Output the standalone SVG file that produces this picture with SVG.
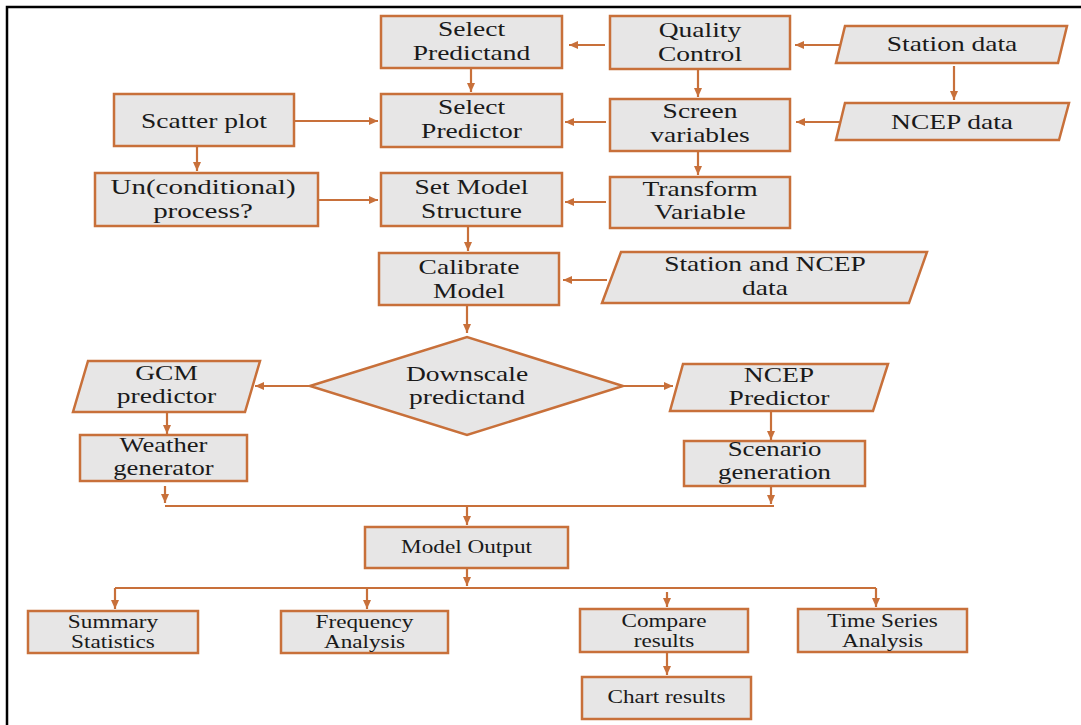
<svg xmlns="http://www.w3.org/2000/svg" width="1081" height="725" viewBox="0 0 1081 725">
<style>
.bx{fill:#e7e6e6;stroke:#c8703a;stroke-width:2.5}
.cn{fill:none;stroke:#c8703a;stroke-width:2.2}
.t{font-family:"Liberation Serif","Times New Roman",serif;font-size:21px;fill:#1a1a1a;text-anchor:middle}
.s{font-size:18px}
.m{font-size:20px}
</style>
<defs>
<marker id="ah" markerUnits="userSpaceOnUse" markerWidth="9" markerHeight="8" refX="9" refY="4" orient="auto">
<path d="M0,0 L9,4 L0,8 z" fill="#c8703a"/>
</marker>
</defs>
<rect x="0" y="0" width="1081" height="725" fill="#ffffff"/>
<rect x="7" y="7" width="1090" height="730" fill="none" stroke="#000000" stroke-width="2.5"/>

<g id="connectors">
<path class="cn" d="M840,45 H795" marker-end="url(#ah)"/>
<path class="cn" d="M605,45 H569" marker-end="url(#ah)"/>
<path class="cn" d="M954,66 V100" marker-end="url(#ah)"/>
<path class="cn" d="M698,69 V97" marker-end="url(#ah)"/>
<path class="cn" d="M840,122 H796" marker-end="url(#ah)"/>
<path class="cn" d="M606,122 H565" marker-end="url(#ah)"/>
<path class="cn" d="M698,151 V175" marker-end="url(#ah)"/>
<path class="cn" d="M606,202 H565" marker-end="url(#ah)"/>
<path class="cn" d="M471,68 V92" marker-end="url(#ah)"/>
<path class="cn" d="M294,121 H378" marker-end="url(#ah)"/>
<path class="cn" d="M197,146 V171" marker-end="url(#ah)"/>
<path class="cn" d="M318,200 H378" marker-end="url(#ah)"/>
<path class="cn" d="M468,226 V251" marker-end="url(#ah)"/>
<path class="cn" d="M607,280 H563" marker-end="url(#ah)"/>
<path class="cn" d="M467,305 V333" marker-end="url(#ah)"/>
<path class="cn" d="M310,386 H255" marker-end="url(#ah)"/>
<path class="cn" d="M623,386 H673" marker-end="url(#ah)"/>
<path class="cn" d="M167,412 V434" marker-end="url(#ah)"/>
<path class="cn" d="M771,411 V440" marker-end="url(#ah)"/>
<path class="cn" d="M165,486 V503" marker-end="url(#ah)"/>
<path class="cn" d="M771,486 V504" marker-end="url(#ah)"/>
<path class="cn" d="M165,506 H774"/>
<path class="cn" d="M467,506 V525" marker-end="url(#ah)"/>
<path class="cn" d="M467,568 V586" marker-end="url(#ah)"/>
<path class="cn" d="M115,588 H876"/>
<path class="cn" d="M115,588 V609" marker-end="url(#ah)"/>
<path class="cn" d="M367,588 V609" marker-end="url(#ah)"/>
<path class="cn" d="M667,592 V607" marker-end="url(#ah)"/>
<path class="cn" d="M876,588 V607" marker-end="url(#ah)"/>
<path class="cn" d="M667,652 V675" marker-end="url(#ah)"/>
</g>

<g id="select-predictand">
<rect class="bx" x="381" y="16" width="181" height="52"/>
<text class="t" transform="matrix(1.31 0 0 1 471.5 0)"><tspan x="0" y="36">Select</tspan><tspan x="0" y="60">Predictand</tspan></text>
</g>
<g id="quality-control">
<rect class="bx" x="610" y="16" width="180" height="53"/>
<text class="t" transform="matrix(1.31 0 0 1 700 0)"><tspan x="0" y="37">Quality</tspan><tspan x="0" y="61">Control</tspan></text>
</g>
<g id="station-data">
<polygon class="bx" points="845,26 1067,26 1058,63 836,63"/>
<text class="t" transform="matrix(1.31 0 0 1 952 0)"><tspan x="0" y="51">Station data</tspan></text>
</g>
<g id="scatter-plot">
<rect class="bx" x="114" y="94" width="180" height="52"/>
<text class="t" transform="matrix(1.31 0 0 1 204 0)"><tspan x="0" y="128">Scatter plot</tspan></text>
</g>
<g id="select-predictor">
<rect class="bx" x="381" y="94" width="181" height="53"/>
<text class="t" transform="matrix(1.31 0 0 1 471.5 0)"><tspan x="0" y="114">Select</tspan><tspan x="0" y="138">Predictor</tspan></text>
</g>
<g id="screen-variables">
<rect class="bx" x="610" y="99" width="180" height="52"/>
<text class="t" transform="matrix(1.31 0 0 1 700 0)"><tspan x="0" y="118">Screen</tspan><tspan x="0" y="142">variables</tspan></text>
</g>
<g id="ncep-data">
<polygon class="bx" points="845,103 1069,103 1059,140 836,140"/>
<text class="t" transform="matrix(1.31 0 0 1 952 0)"><tspan x="0" y="129">NCEP data</tspan></text>
</g>
<g id="unconditional-process">
<rect class="bx" x="95" y="173" width="223" height="53"/>
<text class="t" transform="matrix(1.38 0 0 1 203 0)"><tspan x="0" y="194">Un(conditional)</tspan><tspan x="0" y="218">process?</tspan></text>
</g>
<g id="set-model-structure">
<rect class="bx" x="381" y="173" width="181" height="53"/>
<text class="t" transform="matrix(1.31 0 0 1 471.5 0)"><tspan x="0" y="194">Set Model</tspan><tspan x="0" y="218">Structure</tspan></text>
</g>
<g id="transform-variable">
<rect class="bx" x="610" y="177" width="180" height="51"/>
<text class="t" transform="matrix(1.31 0 0 1 700 0)"><tspan x="0" y="196">Transform</tspan><tspan x="0" y="219">Variable</tspan></text>
</g>
<g id="calibrate-model">
<rect class="bx" x="379" y="253" width="180" height="52"/>
<text class="t" transform="matrix(1.31 0 0 1 469 0)"><tspan x="0" y="274">Calibrate</tspan><tspan x="0" y="298">Model</tspan></text>
</g>
<g id="station-ncep-data">
<polygon class="bx" points="621,252 927,252 909,303 602,303"/>
<text class="t" transform="matrix(1.31 0 0 1 765 0)"><tspan x="0" y="271">Station and NCEP</tspan><tspan x="0" y="295">data</tspan></text>
</g>
<g id="downscale-predictand">
<polygon class="bx" points="310,386 467,337 623,386 467,435"/>
<text class="t" transform="matrix(1.31 0 0 1 467 0)"><tspan x="0" y="381">Downscale</tspan><tspan x="0" y="404">predictand</tspan></text>
</g>
<g id="gcm-predictor">
<polygon class="bx" points="88,361 260,361 245,412 73,412"/>
<text class="t" transform="matrix(1.31 0 0 1 166.5 0)"><tspan x="0" y="380">GCM</tspan><tspan x="0" y="403">predictor</tspan></text>
</g>
<g id="ncep-predictor">
<polygon class="bx" points="683,364 888,364 873,411 670,411"/>
<text class="t" transform="matrix(1.31 0 0 1 779 0)"><tspan x="0" y="382">NCEP</tspan><tspan x="0" y="405">Predictor</tspan></text>
</g>
<g id="weather-generator">
<rect class="bx" x="80" y="435" width="167" height="46"/>
<text class="t m" transform="matrix(1.33 0 0 1 163.5 0)"><tspan x="0" y="452">Weather</tspan><tspan x="0" y="475">generator</tspan></text>
</g>
<g id="scenario-generation">
<rect class="bx" x="684" y="441" width="181" height="45"/>
<text class="t m" transform="matrix(1.34 0 0 1 774.5 0)"><tspan x="0" y="456">Scenario</tspan><tspan x="0" y="479">generation</tspan></text>
</g>
<g id="model-output">
<rect class="bx" x="365" y="527" width="203" height="41"/>
<text class="t s" transform="matrix(1.29 0 0 1 466.5 0)"><tspan x="0" y="553">Model Output</tspan></text>
</g>
<g id="summary-statistics">
<rect class="bx" x="28" y="611" width="170" height="42"/>
<text class="t s" transform="matrix(1.29 0 0 1 113 0)"><tspan x="0" y="628">Summary</tspan><tspan x="0" y="648">Statistics</tspan></text>
</g>
<g id="frequency-analysis">
<rect class="bx" x="281" y="611" width="167" height="42"/>
<text class="t s" transform="matrix(1.29 0 0 1 364.5 0)"><tspan x="0" y="628">Frequency</tspan><tspan x="0" y="648">Analysis</tspan></text>
</g>
<g id="compare-results">
<rect class="bx" x="580" y="609" width="168" height="43"/>
<text class="t s" transform="matrix(1.29 0 0 1 664 0)"><tspan x="0" y="627">Compare</tspan><tspan x="0" y="647">results</tspan></text>
</g>
<g id="time-series-analysis">
<rect class="bx" x="798" y="609" width="169" height="43"/>
<text class="t s" transform="matrix(1.29 0 0 1 882.5 0)"><tspan x="0" y="627">Time Series</tspan><tspan x="0" y="647">Analysis</tspan></text>
</g>
<g id="chart-results">
<rect class="bx" x="582" y="677" width="169" height="42"/>
<text class="t s" transform="matrix(1.29 0 0 1 666.5 0)"><tspan x="0" y="703">Chart results</tspan></text>
</g>
</svg>
